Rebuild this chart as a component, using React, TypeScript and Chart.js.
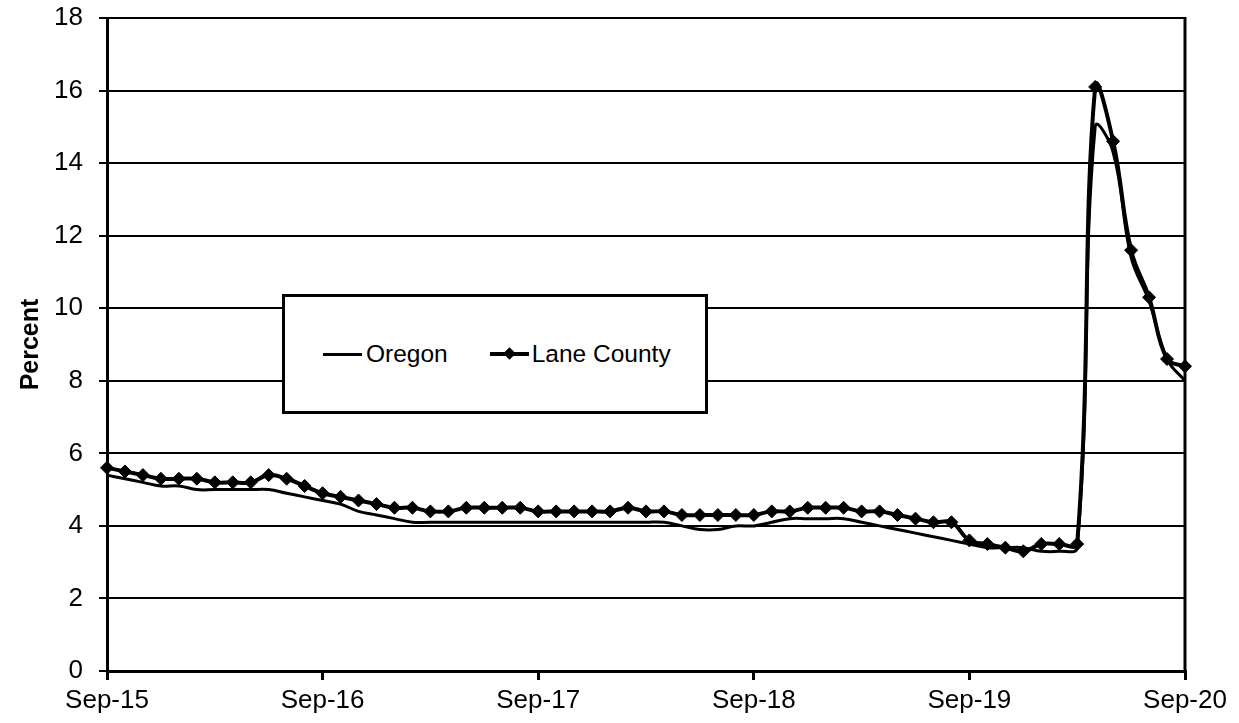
import React, { useEffect, useRef } from 'react';
import { Chart, registerables } from 'chart.js';

Chart.register(...registerables);

const FONT = '"Liberation Sans", Arial, sans-serif';

const months = [
  'Sep-15', 'Oct-15', 'Nov-15', 'Dec-15', 'Jan-16', 'Feb-16', 'Mar-16', 'Apr-16', 'May-16', 'Jun-16', 'Jul-16', 'Aug-16',
  'Sep-16', 'Oct-16', 'Nov-16', 'Dec-16', 'Jan-17', 'Feb-17', 'Mar-17', 'Apr-17', 'May-17', 'Jun-17', 'Jul-17', 'Aug-17',
  'Sep-17', 'Oct-17', 'Nov-17', 'Dec-17', 'Jan-18', 'Feb-18', 'Mar-18', 'Apr-18', 'May-18', 'Jun-18', 'Jul-18', 'Aug-18',
  'Sep-18', 'Oct-18', 'Nov-18', 'Dec-18', 'Jan-19', 'Feb-19', 'Mar-19', 'Apr-19', 'May-19', 'Jun-19', 'Jul-19', 'Aug-19',
  'Sep-19', 'Oct-19', 'Nov-19', 'Dec-19', 'Jan-20', 'Feb-20', 'Mar-20', 'Apr-20', 'May-20', 'Jun-20', 'Jul-20', 'Aug-20',
  'Sep-20',
];

const yearTickLabels = ['Sep-15', 'Sep-16', 'Sep-17', 'Sep-18', 'Sep-19', 'Sep-20'];

const oregon = [
  5.4, 5.3, 5.2, 5.1, 5.1, 5.0, 5.0, 5.0, 5.0, 5.0, 4.9, 4.8,
  4.7, 4.6, 4.4, 4.3, 4.2, 4.1, 4.1, 4.1, 4.1, 4.1, 4.1, 4.1,
  4.1, 4.1, 4.1, 4.1, 4.1, 4.1, 4.1, 4.1, 4.0, 3.9, 3.9, 4.0,
  4.0, 4.1, 4.2, 4.2, 4.2, 4.2, 4.1, 4.0, 3.9, 3.8, 3.7, 3.6,
  3.5, 3.4, 3.4, 3.4, 3.3, 3.3, 3.4, 15.0, 14.3, 11.4, 10.2, 8.6,
  8.0,
];

const lane = [
  5.6, 5.5, 5.4, 5.3, 5.3, 5.3, 5.2, 5.2, 5.2, 5.4, 5.3, 5.1,
  4.9, 4.8, 4.7, 4.6, 4.5, 4.5, 4.4, 4.4, 4.5, 4.5, 4.5, 4.5,
  4.4, 4.4, 4.4, 4.4, 4.4, 4.5, 4.4, 4.4, 4.3, 4.3, 4.3, 4.3,
  4.3, 4.4, 4.4, 4.5, 4.5, 4.5, 4.4, 4.4, 4.3, 4.2, 4.1, 4.1,
  3.6, 3.5, 3.4, 3.3, 3.5, 3.5, 3.5, 16.1, 14.6, 11.6, 10.3, 8.6,
  8.4,
];

const Y_MIN = 0;
const Y_MAX = 18;
const Y_STEP = 2;

const plotBorder = {
  id: 'plotBorder',
  afterDatasetsDraw(chart: any) {
    const { ctx, chartArea } = chart;
    ctx.save();
    ctx.strokeStyle = '#000';
    ctx.lineWidth = 3;
    ctx.beginPath();
    ctx.moveTo(chartArea.right, chartArea.top - 1);
    ctx.lineTo(chartArea.right, chartArea.bottom + 1.5);
    ctx.stroke();
    ctx.restore();
  },
};

export default function App() {
  const canvasRef = useRef<HTMLCanvasElement | null>(null);

  useEffect(() => {
    document.body.style.margin = '0';
    const canvas = canvasRef.current;
    if (!canvas) return;
    const chart = new Chart(canvas, {
      type: 'line',
      data: {
        labels: months,
        datasets: [
          {
            label: 'Oregon',
            data: oregon,
            borderColor: '#000',
            backgroundColor: '#000',
            borderWidth: 3,
            pointRadius: 0,
            tension: 0.4,
            order: 2,
          },
          {
            label: 'Lane County',
            data: lane,
            borderColor: '#000',
            backgroundColor: '#000',
            borderWidth: 4,
            pointStyle: 'rectRot',
            pointRadius: 6.5,
            pointBorderWidth: 1,
            pointBackgroundColor: '#000',
            pointBorderColor: '#000',
            tension: 0.4,
            order: 1,
          },
        ],
      },
      options: {
        animation: false,
        responsive: true,
        maintainAspectRatio: false,
        layout: { padding: { top: 18, right: 54, bottom: 0, left: 0 } },
        plugins: {
          legend: { display: false },
          tooltip: { enabled: false },
        },
        scales: {
          x: {
            type: 'category',
            offset: false,
            grid: {
              drawOnChartArea: false,
              drawTicks: true,
              tickLength: 9,
              color: '#000',
              lineWidth: 3,
            },
            border: { display: true, color: '#000', width: 3 },
            ticks: {
              autoSkip: false,
              maxRotation: 0,
              minRotation: 0,
              color: '#000',
              padding: 5,
              font: { family: FONT, size: 26 },
              callback: (_v: any, i: number) => (yearTickLabels.includes(months[i]) ? months[i] : null),
            },
            afterFit: (s: any) => {
              s.height = 52;
            },
          },
          y: {
            min: Y_MIN,
            max: Y_MAX,
            ticks: {
              stepSize: Y_STEP,
              color: '#000',
              padding: 16,
              font: { family: FONT, size: 26 },
            },
            grid: { color: '#000', lineWidth: 2, tickLength: 8 },
            border: { display: true, color: '#000', width: 3 },
            title: {
              display: true,
              text: 'Percent',
              color: '#000',
              font: { family: FONT, size: 25, weight: 'bold' },
              padding: { top: 16, bottom: 0 },
            },
            afterFit: (s: any) => {
              s.width = 107;
              s.paddingTop = 0;
              s.paddingBottom = 0;
            },
          },
        },
      },
      plugins: [plotBorder],
    });
    return () => chart.destroy();
  }, []);

  const legendText: React.CSSProperties = {
    fontFamily: FONT,
    fontSize: 24.5,
    color: '#000',
    lineHeight: '28px',
    whiteSpace: 'nowrap',
  };

  return (
    <div style={{ position: 'absolute', left: 0, top: 0, width: 1239, height: 723, background: '#fff' }}>
      <canvas ref={canvasRef} />
      <div
        style={{
          position: 'absolute',
          left: 282,
          top: 294,
          width: 426,
          height: 120,
          boxSizing: 'border-box',
          border: '3px solid #000',
          background: '#fff',
          display: 'flex',
          alignItems: 'center',
          paddingLeft: 38,
        }}
      >
        <div style={{ width: 39, height: 3, background: '#000', marginRight: 4 }} />
        <span style={legendText}>Oregon</span>
        <div style={{ position: 'relative', width: 39, height: 4, background: '#000', marginLeft: 42, marginRight: 3 }}>
          <div
            style={{
              position: 'absolute',
              left: 15,
              top: -3,
              width: 9,
              height: 9,
              background: '#000',
              transform: 'rotate(45deg)',
            }}
          />
        </div>
        <span style={legendText}>Lane County</span>
      </div>
    </div>
  );
}
